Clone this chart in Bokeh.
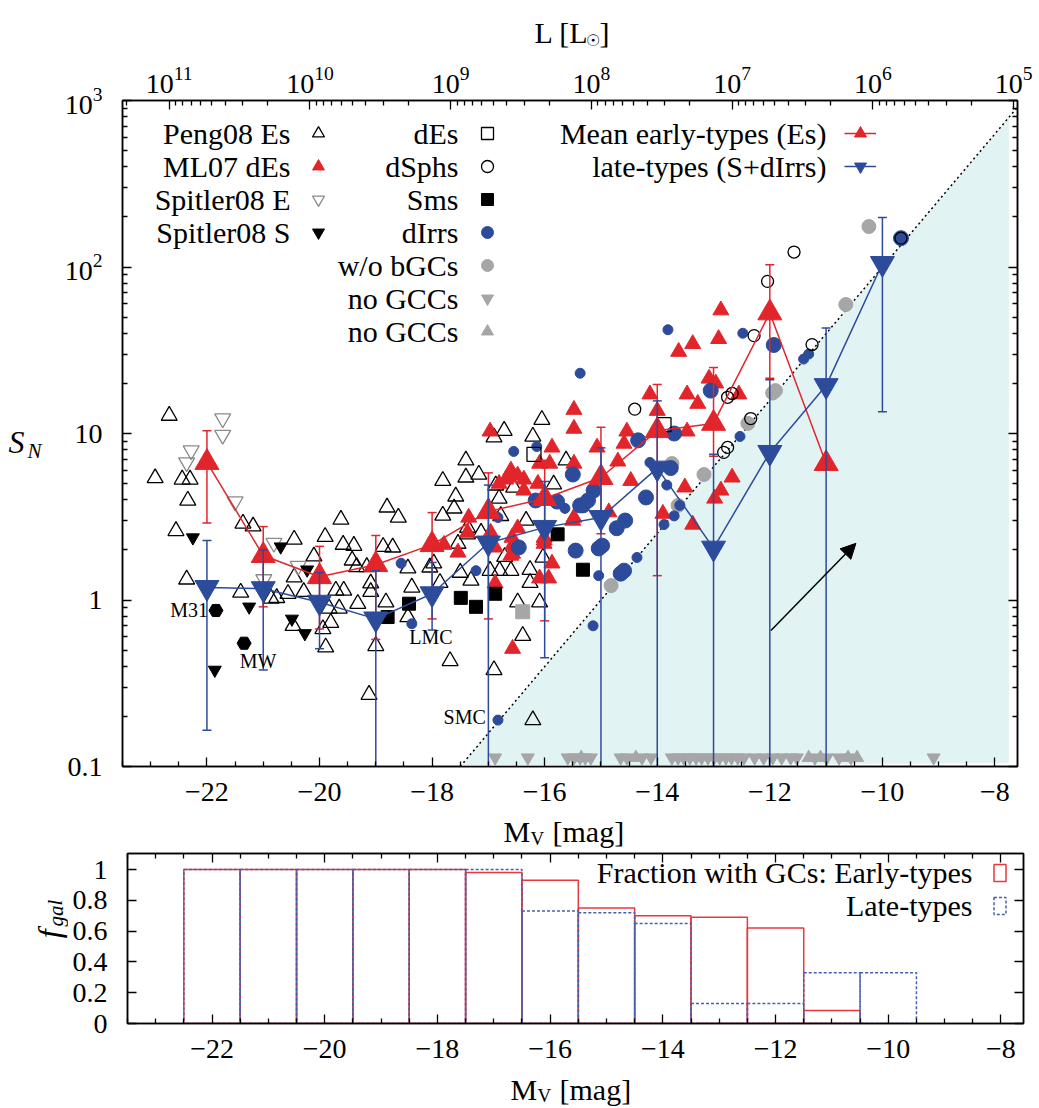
from bokeh.plotting import figure
from bokeh.models import (Range1d, LogAxis, LinearAxis, FixedTicker, LogTickFormatter, LogScale,
                          Legend, LegendItem, Label, Arrow, NormalHead)
from bokeh.layouts import column, row
from bokeh.embed import file_html
from bokeh.resources import INLINE

FONT = "Liberation Serif"
RED = "#e2252b"
BLUE = "#2d4b9b"
GRAY = "#a6a6a6"
SHADE = "#e1f3f3"
HRED = "#e8383d"
HBLUE = "#4660b0"

# ---------------- data (M_V [mag], S_N) ----------------
peng_mv = [-22.67, -22.92, -22.44, -22.30, -22.34, -22.55, -22.36, -21.40, -21.36, -21.18, -20.45, -20.45,
           -20.10, -19.90, -19.62, -19.58, -19.39, -19.42, -19.34, -19.16, -19.09, -19.09, -18.80, -18.60,
           -18.87, -18.70, -20.47, -19.94, -19.89, -19.80, -19.83, -19.65, -19.32, -18.82, -19.00, -19.12,
           -19.57, -19.71, -20.28, -20.56, -20.76, -20.86, -18.43, -18.36, -18.43, -17.81, -17.58, -17.61,
           -17.81, -17.40, -17.40, -17.17, -17.97, -18.04, -17.86, -17.50, -17.54, -17.37, -17.37, -17.31,
           -17.13, -16.97, -16.80, -16.60, -16.87, -16.81, -16.72, -16.90, -16.78, -16.55, -16.71, -16.33,
           -16.26, -16.26, -16.48, -16.21, -16.05, -15.62, -15.84, -16.03, -16.09, -16.39, -17.68, -16.90,
           -16.21]
peng_sn = [12.8, 5.4, 5.3, 5.3, 3.96, 2.6, 1.33, 1.11, 2.88, 2.77, 2.31, 1.37,
           1.83, 2.40, 3.04, 2.15, 2.12, 1.73, 1.58, 1.58, 1.26, 1.12, 3.6, 3.13,
           2.09, 2.07, 0.70, 0.67, 0.52, 0.73, 0.89, 0.89, 0.95, 0.97, 0.53, 0.27,
           1.14, 1.14, 1.12, 1.09, 1.03, 1.02, 1.55, 1.19, 0.79, 5.2, 4.19, 3.55,
           3.22, 6.9, 5.45, 5.67, 1.66, 1.57, 1.27, 1.46, 2.18, 2.72, 2.48, 1.31,
           2.54, 1.5, 1.5, 1.5, 4.88, 4.07, 10.4, 9.5, 3.2, 4.74, 1.82, 3.0,
           1.52, 1.27, 0.97, 9.6, 12.1, 6.9, 4.95, 1.8, 0.97, 0.61, 0.43, 0.38,
           0.19]

ml07_mv = [-16.97, -15.87, -15.48, -15.48, -16.60, -16.64, -16.48, -16.69, -16.37, -16.37, -16.81, -16.09,
           -15.91, -16.12, -17.35, -17.37, -17.54, -17.79, -16.96, -16.88, -16.58, -16.57, -16.57, -16.60,
           -16.48, -16.01, -16.01, -16.01, -15.87, -16.09, -15.93, -16.88, -15.48, -16.57,
           -14.54, -14.59, -14.70, -14.86, -14.47, -14.13, -13.47, -13.28, -14.00, -13.90, -13.51, -13.37,
           -15.50, -15.07, -15.48, -13.62, -13.37, -12.91, -12.87, -13.08, -12.55, -13.47, -12.67, -12.87,
           -12.98, -12.96]
ml07_sn = [10.3, 8.25, 13.9, 10.7, 6.0, 5.45, 5.6, 5.3, 5.3, 4.55, 5.0, 6.6,
           6.6, 5.0, 3.13, 2.54, 1.93, 2.15, 2.54, 2.07, 2.37, 2.13, 1.9, 1.85,
           2.7, 2.37, 2.28, 2.18, 1.66, 1.35, 1.35, 1.26, 3.13, 0.51,
           10.3, 8.7, 6.8, 3.37, 5.2, 17.2, 17.2, 15.1, 13.7, 3.3, 4.75, 2.84,
           3.0, 8.25, 6.6, 31.0, 34.5, 37.0, 55.0, 21.4, 17.2, 10.3, 5.45, 4.55,
           4.07, 20.0]

spE_mv = [-21.72, -21.72, -22.28, -22.36, -21.50, -20.81, -20.38, -20.99]
spE_sn = [12.3, 9.8, 7.9, 6.7, 3.9, 2.2, 1.6, 1.33]

spS_mv = [-22.25, -20.69, -21.25, -20.49, -20.26, -20.22, -21.86]
spS_sn = [2.37, 2.09, 0.91, 0.77, 0.63, 1.52, 0.38]

mw_m31_mv = [-21.84, -21.34]
mw_m31_sn = [0.865, 0.55]

dEs_mv = [-16.19, -13.88]
dEs_sn = [7.5, 11.3]

dsph_mv = [-11.57, -12.04, -12.28, -11.25, -12.75, -12.67, -12.34, -12.82, -12.75, -14.40, -9.67]
dsph_sn = [123.0, 82.0, 38.7, 34.2, 16.5, 17.4, 12.3, 7.7, 8.25, 14.0, 149.0]

sms_mv = [-18.79, -18.41, -17.49, -17.22, -16.88, -15.77, -15.32]
sms_sn = [0.79, 0.95, 1.03, 0.91, 1.09, 2.48, 1.52]

dirr_small_mv = [-18.55, -18.36, -17.22, -16.83, -16.55, -16.14, -15.64, -15.04, -14.36, -15.14, -16.83,
                 -13.88, -13.70, -13.60, -15.37, -13.81, -12.48, -13.83, -14.13, -12.53, -11.40, -11.31]
dirr_small_sn = [1.66, 0.72, 1.5, 3.13, 7.8, 8.35, 3.55, 1.4, 1.8, 0.70, 0.19,
                 2.84, 3.2, 3.7, 23.0, 42.0, 40.0, 4.9, 6.7, 9.6, 28.0, 30.0]
dirr_big_mv = [-16.46, -16.16, -15.78, -15.50, -15.45, -15.37, -15.32, -15.23, -15.13, -15.04, -14.34,
               -14.57, -14.72, -14.20, -13.70, -14.65, -14.59, -13.05, -14.98, -13.76, -11.93, -9.67]
dirr_big_sn = [2.07, 3.96, 3.9, 5.67, 1.98, 3.7, 3.7, 3.96, 4.55, 2.04, 9.1,
               3.0, 2.7, 4.13, 10.0, 1.44, 1.5, 18.1, 2.12, 6.2, 34.0, 149.0]

wob_mv = [-10.24, -10.65, -11.90, -11.95, -12.39, -13.17, -13.63, -13.74, -14.82]
wob_sn = [175.0, 59.5, 18.1, 17.5, 11.5, 5.67, 3.7, 6.6, 1.22]
wob_sq_mv = [-16.39]
wob_sq_sn = [0.85]

nogcc_down_mv = [-16.88, -16.30, -15.59, -15.48, -15.37, -15.28, -15.18, -14.65, -14.54, -14.27, -14.11,
                 -13.74, -13.63, -13.53, -13.42, -13.31, -13.21, -13.10, -12.99, -12.89, -12.78, -12.68,
                 -12.57, -12.46, -12.27, -12.11, -11.95, -11.79, -11.63, -11.52, -11.20, -10.99, -10.77,
                 -10.56, -9.09]
nogcc_down_sn = [0.113] * len(nogcc_down_mv)
nogcc_up_mv = [-15.35, -14.38, -11.31, -11.10, -10.61, -10.45]
nogcc_up_sn = [0.113] * len(nogcc_up_mv)

early_mv = [-22, -21, -20, -19, -18, -17, -16, -15, -14, -13, -12, -11]
early_sn = [6.7, 1.85, 1.38, 1.63, 2.15, 3.4, 4.07, 5.44, 10.4, 11.5, 53.0, 6.6]
early_hi = [10.4, 2.76, 2.1, 2.44, 3.35, 5.8, 6.9, 10.9, 19.7, 24.9, 103.0, 6.6]
early_lo = [2.9, 0.91, 0.67, 0.58, 0.77, 0.77, 0.75, 2.5, 1.4, 7.3, 21.5, 6.6]

late_mv = [-22, -21, -20, -19, -18, -17, -16, -15, -14, -13, -12, -11, -10]
late_sn = [1.19, 1.17, 0.97, 0.77, 1.09, 2.2, 2.73, 3.13, 6.2, 2.05, 7.7, 19.4, 105.0]
late_hi = [2.28, 2.0, 1.46, 1.5, 1.68, 4.9, 5.15, 8.2, 15.7, 7.5, 21.0, 43.0, 198.0]
late_lo = [0.165, 0.38, 0.51, 0.05, 0.66, 0.05, 0.45, 0.05, 0.05, 0.05, 0.05, 0.05, 13.5]

# N_GC = 1 limit line and region below it
limit_mv = [-17.5, -7.6]
limit_sn = [0.1, 912.0]
shade_mv = [-17.5, -7.75, -7.75]
shade_sn = [0.1, 794.0, 0.105]

arrow_mv = [-11.98, -10.47]
arrow_sn = [0.656, 2.19]

gal_names = ["M31", "MW", "LMC", "SMC"]
gal_name_mv = [-21.98, -21.09, -18.02, -17.42]
gal_name_sn = [0.865, 0.43, 0.596, 0.197]

# fraction with GCs (bins 1 mag wide)
frac_early_mv = [-22, -21, -20, -19, -18, -17, -16, -15, -14, -13, -12, -11]
frac_early = [1.0, 1.0, 1.0, 1.0, 1.0, 0.98, 0.93, 0.75, 0.70, 0.69, 0.62, 0.085]
frac_late_mv = [-22, -21, -20, -19, -18, -17, -16, -15, -14, -13, -12, -11, -10]
frac_late = [1.0, 1.0, 1.0, 1.0, 1.0, 1.0, 0.73, 0.72, 0.65, 0.13, 0.13, 0.33, 0.33]

x_major = [-22, -20, -18, -16, -14, -12, -10, -8]
x_minor = [-23.5, -23, -22.5, -21.5, -21, -20.5, -19.5, -19, -18.5, -17.5, -17, -16.5, -15.5, -15,
           -14.5, -13.5, -13, -12.5, -11.5, -11, -10.5, -9.5, -9, -8.5, -7.5]
y_major = [0.1, 1, 10, 100, 1000]
y_minor = [m * 10.0 ** e for e in (-1, 0, 1, 2) for m in range(2, 10)]
L_major = [10 ** k for k in range(5, 12)]
L_minor = [m * 10 ** k for k in range(5, 12) for m in range(2, 10) if m * 10 ** k < 2.1e11]
f_major = [0, 0.2, 0.4, 0.6, 0.8, 1]

X0, X1 = -23.5, -7.6
MSUN = 4.83
L_left = 10 ** ((MSUN - X0) / 2.5)
L_right = 10 ** ((MSUN - X1) / 2.5)

TICK_FS = "28px"
TXT_FS = "30px"


def style_axis(ax, labels=True, standoff=20):
    ax.major_tick_in = 9
    ax.major_tick_out = 0
    ax.minor_tick_in = 5
    ax.minor_tick_out = 0
    ax.axis_line_width = 1.5
    ax.major_tick_line_width = 1.3
    ax.minor_tick_line_width = 1.3
    ax.major_label_text_font = FONT
    if labels:
        ax.major_label_text_color = "black"
        ax.major_label_text_font_size = TICK_FS
        ax.major_label_standoff = standoff
    else:
        ax.major_label_overrides = {}
        ax.major_label_text_color = None
        ax.major_label_text_font_size = "1px"
        ax.major_label_standoff = 0


def lab(fig, x, y, text, size=TXT_FS, align="right", style="normal", angle=0.0, units="screen"):
    fig.add_layout(Label(x=x, y=y, x_units=units, y_units=units, text=text, text_font=FONT,
                         text_font_size=size, text_align=align, text_baseline="middle",
                         text_font_style=style, angle=angle, text_color="black"))


def text_fig(w, h):
    f = figure(width=w, height=h, x_range=Range1d(0, w), y_range=Range1d(h, 0),
               x_axis_location=None, y_axis_location=None, output_backend="svg",
               toolbar_location=None, min_border=0, outline_line_color=None)
    f.xgrid.visible = False
    f.ygrid.visible = False
    return f


# ---------------- main panel ----------------
p = figure(width=989, height=764, x_range=Range1d(X0, X1), y_range=Range1d(0.1, 1000),
           y_axis_type="log", output_backend="svg", toolbar_location=None,
           min_border_left=72, min_border_right=22, min_border_top=50, min_border_bottom=48)
p.xgrid.visible = False
p.ygrid.visible = False
p.outline_line_color = "black"
p.outline_line_width = 1.5
p.extra_x_ranges = {"L": Range1d(start=L_left, end=L_right)}
p.extra_x_scales = {"L": LogScale()}

p.xaxis.ticker = FixedTicker(ticks=x_major, minor_ticks=x_minor)
style_axis(p.xaxis[0], standoff=16)
p.yaxis.ticker = FixedTicker(ticks=y_major, minor_ticks=y_minor)
p.yaxis.formatter = LogTickFormatter(min_exponent=2)
style_axis(p.yaxis[0])

top_ax = LogAxis(x_range_name="L", ticker=FixedTicker(ticks=L_major, minor_ticks=L_minor),
                 formatter=LogTickFormatter())
style_axis(top_ax, standoff=8)
p.add_layout(top_ax, "above")
right_ax = LogAxis(ticker=FixedTicker(ticks=y_major, minor_ticks=y_minor))
style_axis(right_ax, labels=False)
p.add_layout(right_ax, "right")

p.patch(shade_mv, shade_sn, fill_color=SHADE, line_color=None)
p.line(limit_mv, limit_sn, line_color="black", line_dash="2 3", line_width=1.5)

r_nd = p.scatter(nogcc_down_mv, nogcc_down_sn, marker="inverted_triangle", size=13,
                 fill_color=GRAY, line_color=GRAY)
r_nu = p.scatter(nogcc_up_mv, nogcc_up_sn, marker="triangle", size=13, fill_color=GRAY, line_color=GRAY)
r_peng = p.scatter(peng_mv, peng_sn, marker="triangle", size=16, fill_color=None,
                   line_color="black", line_width=1.3)
r_spE = p.scatter(spE_mv, spE_sn, marker="inverted_triangle", size=16, fill_color=None,
                  line_color="#8a8a8a", line_width=1.3)
r_spS = p.scatter(spS_mv, spS_sn, marker="inverted_triangle", size=13, fill_color="black",
                  line_color="black")
p.scatter(mw_m31_mv, mw_m31_sn, marker="hex", size=14, fill_color="black", line_color="black")
r_ml = p.scatter(ml07_mv, ml07_sn, marker="triangle", size=16, fill_color=RED, line_color=RED)
r_sms = p.scatter(sms_mv, sms_sn, marker="square", size=13, fill_color="black", line_color="black")
r_wob = p.scatter(wob_mv, wob_sn, marker="circle", size=14, fill_color=GRAY, line_color=GRAY)
p.scatter(wob_sq_mv, wob_sq_sn, marker="square", size=14, fill_color=GRAY, line_color=GRAY)
r_dis = p.scatter(dirr_small_mv, dirr_small_sn, marker="circle", size=10, fill_color=BLUE, line_color=BLUE)
p.scatter(dirr_big_mv, dirr_big_sn, marker="circle", size=15, fill_color=BLUE, line_color=BLUE)
r_des = p.scatter(dEs_mv, dEs_sn, marker="square", size=14, fill_color=None, line_color="black",
                  line_width=1.3)
r_dsph = p.scatter(dsph_mv, dsph_sn, marker="circle", size=12, fill_color=None, line_color="black",
                   line_width=1.3)

# mean early types
p.segment(x0=early_mv, y0=early_lo, x1=early_mv, y1=early_hi, line_color=RED, line_width=1.5)
p.scatter(early_mv + early_mv, early_lo + early_hi, marker="dash", size=9, line_color=RED, line_width=1.5)
r_eline = p.line(early_mv, early_sn, line_color=RED, line_width=1.5)
r_escat = p.scatter(early_mv, early_sn, marker="triangle", size=24, fill_color=RED, line_color=RED)
# mean late types
p.segment(x0=late_mv, y0=late_lo, x1=late_mv, y1=late_hi, line_color=BLUE, line_width=1.5)
p.scatter(late_mv + late_mv, late_lo + late_hi, marker="dash", size=9, line_color=BLUE, line_width=1.5)
r_lline = p.line(late_mv, late_sn, line_color=BLUE, line_width=1.5)
r_lscat = p.scatter(late_mv, late_sn, marker="inverted_triangle", size=24, fill_color=BLUE,
                    line_color=BLUE)

p.add_layout(Arrow(end=NormalHead(size=15, fill_color="black", line_color="black"),
                   x_start=arrow_mv[0], y_start=arrow_sn[0], x_end=arrow_mv[1], y_end=arrow_sn[1],
                   line_color="black", line_width=1.5))

for name, gx, gy in zip(gal_names, gal_name_mv, gal_name_sn):
    lab(p, gx, gy, name, size="20px", align="right" if name == "M31" else "center", units="data")


def make_legend(items, vx, vy, gw, gh, spacing):
    # symbol-only legend columns; the texts are drawn right-aligned next to them (gnuplot style)
    leg = Legend(items=[LegendItem(label=" ", renderers=r) for r in items], location=(vx, vy),
                 orientation="vertical", glyph_width=gw, glyph_height=gh, label_height=gh,
                 label_standoff=2, spacing=spacing, padding=0, margin=0,
                 border_line_color=None, background_fill_alpha=0,
                 label_text_font_size="12px", label_text_font=FONT)
    return leg


p.add_layout(make_legend([[r_peng], [r_ml], [r_spE], [r_spS]], 181, 519, 30, 30, 3))
p.add_layout(make_legend([[r_des], [r_dsph], [r_sms], [r_dis], [r_wob], [r_nd], [r_nu]],
                         350, 420, 30, 30, 3))
p.add_layout(make_legend([[r_eline, r_escat], [r_lline, r_lscat]], 722, 585, 32, 30, 3))

col1 = ["Peng08 Es", "ML07 dEs", "Spitler08 E", "Spitler08 S"]
col2 = ["dEs", "dSphs", "Sms", "dIrrs", "w/o bGCs", "no GCCs", "no GCCs"]
col3 = ["Mean early-types (Es)", "late-types (S+dIrrs)"]
for i, t in enumerate(col1):
    lab(p, 168, 633 - 33 * i, t)
for i, t in enumerate(col2):
    lab(p, 336, 633 - 33 * i, t)
for i, t in enumerate(col3):
    lab(p, 704, 633 - 33 * i, t)

# ---------------- fraction panel ----------------
q = figure(width=971, height=220, x_range=Range1d(X0, X1), y_range=Range1d(0, 1.104),
           output_backend="svg", toolbar_location=None,
           min_border_left=59, min_border_right=16, min_border_top=2, min_border_bottom=48)
q.xgrid.visible = False
q.ygrid.visible = False
q.outline_line_color = "black"
q.outline_line_width = 1.5
q.xaxis.ticker = FixedTicker(ticks=x_major, minor_ticks=x_minor)
style_axis(q.xaxis[0], standoff=16)
q.yaxis.ticker = FixedTicker(ticks=f_major)
q.yaxis.major_label_overrides = {0: "0", 0.2: "0.2", 0.4: "0.4", 0.6: "0.6", 0.8: "0.8", 1: "1"}
style_axis(q.yaxis[0])
qtop = LinearAxis(ticker=FixedTicker(ticks=x_major, minor_ticks=x_minor))
style_axis(qtop, labels=False)
q.add_layout(qtop, "above")
qright = LinearAxis(ticker=FixedTicker(ticks=f_major))
style_axis(qright, labels=False)
q.add_layout(qright, "right")

r_he = q.quad(left=[m - 0.5 for m in frac_early_mv], right=[m + 0.5 for m in frac_early_mv],
              bottom=0, top=frac_early, fill_color=None, line_color=HRED, line_width=1.5)
r_hl = q.quad(left=[m - 0.5 for m in frac_late_mv], right=[m + 0.5 for m in frac_late_mv],
              bottom=0, top=frac_late, fill_color=None, line_color=HBLUE, line_width=1.5,
              line_dash="3 2")
q.add_layout(make_legend([[r_he], [r_hl]], 865, 107, 15, 21, 12))
lab(q, 845, 151, "Fraction with GCs: Early-types")
lab(q, 845, 118, "Late-types")

# ---------------- axis titles (text strips around the panels) ----------------
top_txt = text_fig(1039, 50)
lab(top_txt, 534, 32, "L [L", align="left", units="data")
lab(top_txt, 592, 40, "\u2609", size="16px", align="center", units="data")
lab(top_txt, 599, 32, "]", align="left", units="data")

left1 = text_fig(50, 764)
lab(left1, 8, 392, "S", size="32px", align="left", style="italic", units="data")
lab(left1, 27, 402, "N", size="21px", align="left", style="italic", units="data")

mid_txt = text_fig(1039, 37)
lab(mid_txt, 503, 17, "M", align="left", units="data")
lab(mid_txt, 530, 24, "V", size="19px", align="left", units="data")
lab(mid_txt, 552, 17, "[mag]", align="left", units="data")

left2 = text_fig(68, 220)
lab(left2, 48, 104, "f", size="32px", align="center", style="italic", angle=1.5708, units="data")
lab(left2, 55, 77, "gal", size="21px", align="center", style="italic", angle=1.5708, units="data")

bot_txt = text_fig(1039, 36)
lab(bot_txt, 510, 18, "M", align="left", units="data")
lab(bot_txt, 537, 24, "V", size="19px", align="left", units="data")
lab(bot_txt, 559, 18, "[mag]", align="left", units="data")

layout = column(top_txt, row(left1, p, spacing=0), mid_txt, row(left2, q, spacing=0), bot_txt,
                spacing=0)
open("out.html", "w").write(file_html(layout, INLINE))
